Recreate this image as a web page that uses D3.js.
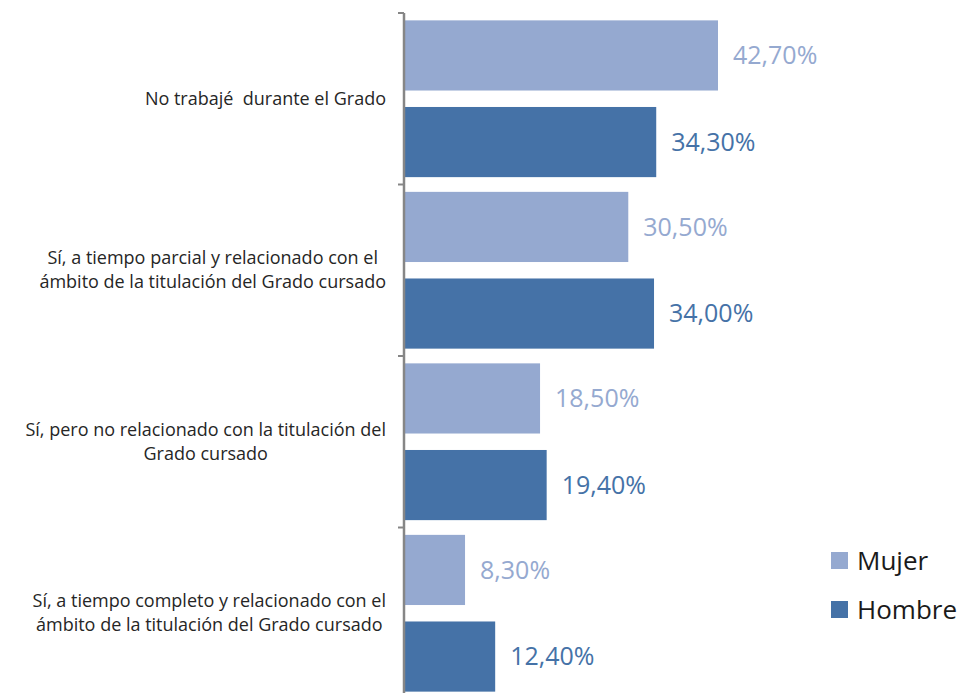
<!DOCTYPE html>
<html>
<head>
<meta charset="utf-8"/>
<script src="https://d3js.org/d3.v7.min.js"></script>
<style>
body { margin: 0; background: #fff; }
svg { font-family: "Open Sans", sans-serif; }
.cat { fill: #262626; font-size: 18px; white-space: pre; }
</style>
</head>
<body>
<script>
// Data
var categories = [
    ["No trabajé  durante el Grado"],
    ["Sí, a tiempo parcial y relacionado con el", "ámbito de la titulación del Grado cursado"],
    ["Sí, pero no relacionado con la titulación del", "Grado cursado"],
    ["Sí, a tiempo completo y relacionado con el", "ámbito de la titulación del Grado cursado"]
];
var series = ["Mujer", "Hombre"];
var mujer = [42.7, 30.5, 18.5, 8.3];
var hombre = [34.3, 34.0, 19.4, 12.4];
var colors = ["#95a9d0", "#4572a7"];

var width = 965, height = 693;
var axisX = 404, topY = 13, step = 171.5;

var svg = d3.select("body").append("svg")
    .attr("width", width)
    .attr("height", height);

var x = d3.scaleLinear().domain([0, 42.7]).range([axisX, 718]);
var y = d3.scaleBand()
    .domain(d3.range(categories.length))
    .range([topY, topY + step * categories.length])
    .paddingInner(0).paddingOuter(0);
var inner = d3.scaleBand().domain(series)
    .range([0, y.bandwidth()])
    .paddingInner(0.19).paddingOuter(0.085);

var values = [mujer, hombre];

// bars + value labels
series.forEach(function(s, si) {
    var g = svg.append("g");
    g.selectAll("rect")
        .data(values[si])
        .enter().append("rect")
        .attr("x", axisX + 1)
        .attr("y", function(d, i) { return y(i) + inner(s); })
        .attr("width", function(d) { return x(d) - axisX - 1; })
        .attr("height", inner.bandwidth())
        .attr("fill", colors[si]);

    g.selectAll("text")
        .data(values[si])
        .enter().append("text")
        .attr("x", function(d) { return x(d) + 15; })
        .attr("y", function(d, i) { return y(i) + inner(s) + inner.bandwidth() / 2; })
        .attr("dy", "0.35em")
        .attr("fill", colors[si])
        .style("font-size", "25px")
        .text(function(d) { return d.toFixed(2).replace(".", ",") + "%"; });
});

// axis: vertical line with ticks between categories
var ax = svg.append("g").attr("transform", "translate(" + axisX + ",0)");
ax.selectAll("line.t")
    .data(d3.range(categories.length + 1))
    .enter().append("line")
    .attr("class", "t")
    .attr("x1", -6).attr("x2", 0)
    .attr("y1", function(d) { return topY + d * step; })
    .attr("y2", function(d) { return topY + d * step; })
    .attr("stroke", "#868686").attr("stroke-width", 2);
ax.append("line")
    .attr("x1", 0).attr("x2", 0)
    .attr("y1", topY).attr("y2", height)
    .attr("stroke", "#868686").attr("stroke-width", 2.5);

// category labels
var lineH = 24;
categories.forEach(function(lines, i) {
    var cy = y(i) + y.bandwidth() / 2;
    var t = svg.append("text").attr("class", "cat").attr("text-anchor", "middle");
    lines.forEach(function(l, k) {
        t.append("tspan").attr("dy", k === 0 ? 0 : lineH).text(l);
    });
    var maxW = 0;
    t.selectAll("tspan").each(function() { maxW = Math.max(maxW, this.getComputedTextLength()); });
    var cx = 386 - maxW / 2;
    t.selectAll("tspan").attr("x", cx);
    t.attr("y", cy - (lines.length - 1) * lineH / 2 + 6);
});

// legend
var leg = svg.append("g").attr("transform", "translate(831,552)");
series.forEach(function(s, si) {
    leg.append("rect").attr("x", 0).attr("y", si * 49)
        .attr("width", 17).attr("height", 17).attr("fill", colors[si]);
    leg.append("text").attr("x", 26).attr("y", si * 49 + 9)
        .attr("dy", "0.35em").attr("fill", "#1a1a1a")
        .style("font-size", "26px").text(s);
});
</script>
</body>
</html>
